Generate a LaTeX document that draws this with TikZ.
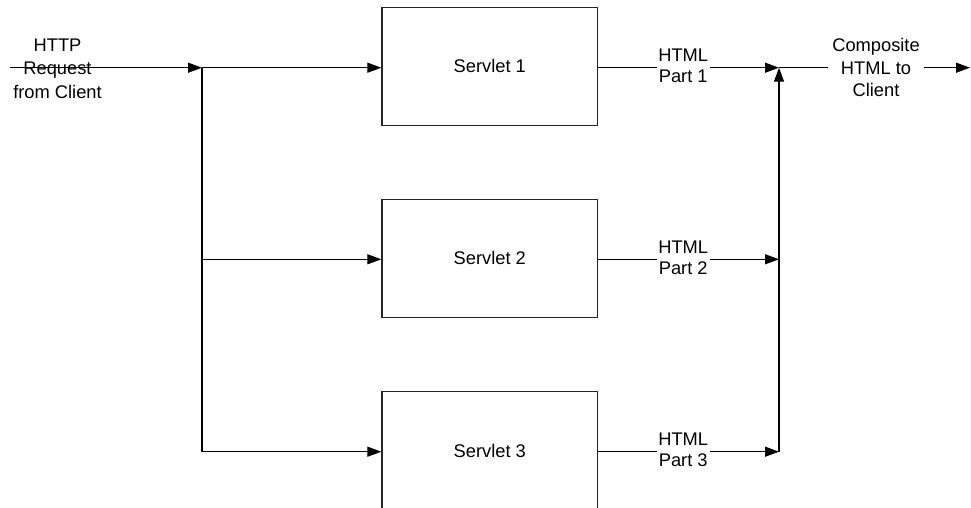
\documentclass[tikz,border=0pt]{standalone}
\usepackage{fontspec}
\setmainfont{Liberation Sans}
\usetikzlibrary{arrows.meta}
\begin{document}
\begin{tikzpicture}[x=1pt,y=-1pt,
  wire/.style={line width=1.2pt, draw=black},
  flow/.style={wire, -{Triangle[length=14pt,width=10pt]}},
  servlet/.style={draw=black!85, line width=1.2pt, minimum width=215.7pt,
    minimum height=118pt, inner sep=0pt,
    font=\fontsize{18.3}{22}\selectfont},
  caption/.style={align=center, inner sep=0pt},
  partlbl/.style={caption, fill=white, inner xsep=1.5pt, inner ysep=1pt,
    font=\fontsize{18.3}{21}\selectfont},
]
\useasboundingbox (0,0) rectangle (971,507);
\clip (0,0) rectangle (971,507);

% servlets
\node[servlet] (s1) at (489.8,66.3) {\raisebox{-3pt}{Servlet 1}};
\node[servlet] (s2) at (489.8,258.3) {\raisebox{-3pt}{Servlet 2}};
\node[servlet] (s3) at (489.8,450.5) {\raisebox{-3pt}{Servlet 3}};

% split and merge points
\coordinate (src) at (10,67.7);
\coordinate (j1) at (202,67.7);
\coordinate (j2) at (202,259.3);
\coordinate (j3) at (202,451.7);
\coordinate (m1) at (779,67.7);
\coordinate (m2) at (779,259.3);
\coordinate (m3) at (779,451.7);
\coordinate (dst) at (970,67.7);

% incoming request
\node[caption, font=\fontsize{18.3}{23.5}\selectfont] (req) at (57.5,68.5)
  {HTTP\\Request\\from Client};
\draw[flow] (src) -- (j1);

% fan out to the servlets
\draw[wire] (j1) -- (j3);
\draw[flow] (j1) -- (j1 -| s1.west);
\draw[flow] (j2) -- (j2 -| s2.west);
\draw[flow] (j3) -- (j3 -| s3.west);

% partial HTML back to the merge point
\draw[flow] (m1 -| s1.east) -- node[partlbl, pos=0.47, yshift=2pt] (p1) {HTML\\Part 1} (m1);
\draw[flow] (m2 -| s2.east) -- node[partlbl, pos=0.47, yshift=2pt] (p2) {HTML\\Part 2} (m2);
\draw[flow] (m3 -| s3.east) -- node[partlbl, pos=0.47, yshift=2pt] (p3) {HTML\\Part 3} (m3);
\draw[flow] (m3) -- (m1);

% composite response
\draw[flow] (m1) -- node[caption, fill=white, inner xsep=4.5pt, pos=0.508,
  font=\fontsize{18.3}{22.3}\selectfont] (out) {Composite\\HTML to\\Client} (dst);
\end{tikzpicture}
\end{document}
